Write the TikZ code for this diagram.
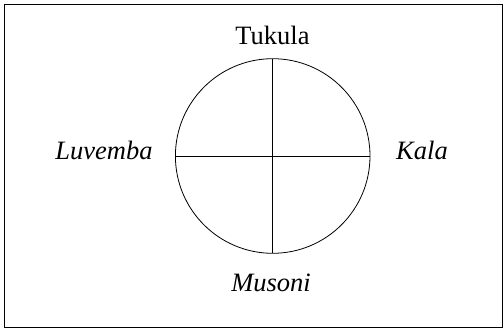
\documentclass[tikz,border=0pt]{standalone}
\usepackage{fontspec}
\setmainfont{Liberation Serif}
\begin{document}
\begin{tikzpicture}[x=1pt,y=-1pt,
  lbl/.style={anchor=base,inner sep=0pt,font=\fontsize{26.5}{30}\selectfont},
  ln/.style={line width=0.8pt}]
\useasboundingbox (0,0) rectangle (503,328);
\draw[line width=0.8pt] (4.5,4.5) rectangle (502.5,327.5);
\coordinate (c) at (272.7,156);
\draw[ln] (c) circle[radius=97.3];
\coordinate (n) at (272.7,58.7);
\coordinate (s) at (272.7,253.3);
\coordinate (w) at (175.4,156);
\coordinate (e) at (370,156);
\draw[ln] (n) -- (s);
\draw[ln] (w) -- (e);
\node[lbl] (tukula) at (272.5,44.3) {Tukula};
\node[lbl] (luvemba) at (104,160) {\itshape Luvemba};
\node[lbl] (kala) at (422,160) {\itshape Kala};
\node[lbl] (musoni) at (271,292) {\itshape Musoni};
\end{tikzpicture}
\end{document}
